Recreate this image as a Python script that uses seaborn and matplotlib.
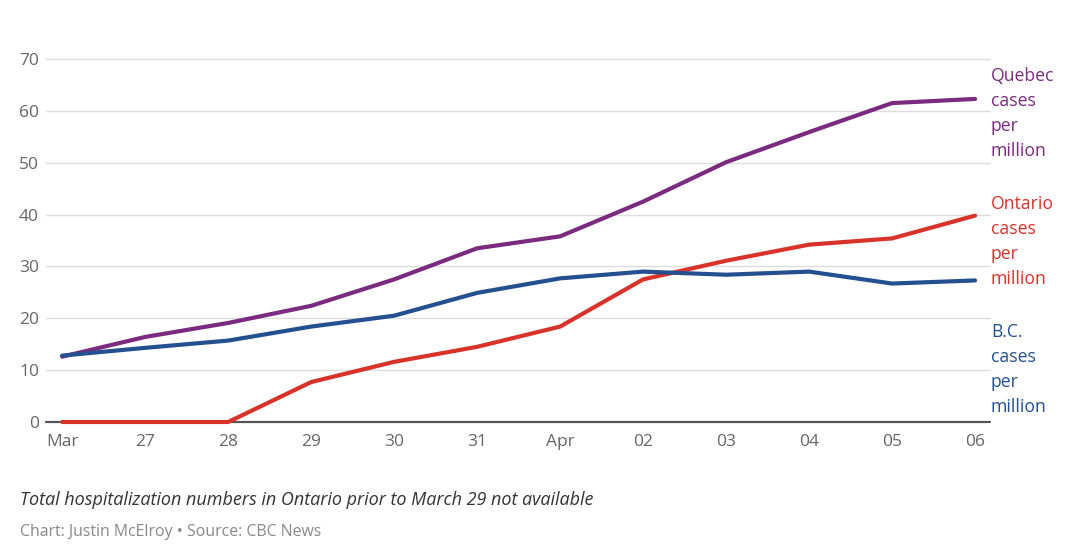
import seaborn as sns
import matplotlib.pyplot as plt
import pandas as pd

days = ['Mar', '27', '28', '29', '30', '31', 'Apr', '02', '03', '04', '05', '06']
quebec = [12.6, 16.4, 19.1, 22.4, 27.5, 33.5, 35.8, 42.5, 50.1, 55.9, 61.5, 62.3]
ontario = [0, 0, 0, 7.7, 11.6, 14.5, 18.4, 27.5, 31.1, 34.2, 35.4, 39.8]
bc = [12.8, 14.3, 15.7, 18.4, 20.5, 24.9, 27.7, 29.0, 28.4, 29.0, 26.7, 27.3]

regions = ['Quebec', 'Ontario', 'B.C.']
colors = {'Quebec': '#7a2b80', 'Ontario': '#d7332a', 'B.C.': '#24508f'}
# where the right-hand labels sit (data y of block centre)
label_y = {'Quebec': 59.5, 'Ontario': 34.9, 'B.C.': 10.2}

rows = []
for name, vals in zip(regions, [quebec, ontario, bc]):
    for i, v in enumerate(vals):
        rows.append({'day': i, 'value': v, 'region': name})
df = pd.DataFrame(rows)

sns.set_style('white')
plt.rcParams['font.family'] = ['Open Sans', 'DejaVu Sans']

fig = plt.figure(figsize=(10.8, 5.54), dpi=100)
ax = fig.add_axes([46 / 1080, 1 - 422 / 554, (990 - 46) / 1080, (422 - 59) / 554])

for y in range(10, 80, 10):
    ax.axhline(y, color='#dddddd', lw=1, zorder=0)
ax.axhline(0, color='#555555', lw=1.6, zorder=1)

sns.lineplot(data=df, x='day', y='value', hue='region', hue_order=regions,
             palette=colors, lw=3, legend=False, ax=ax, zorder=3,
             solid_capstyle='round')
for ln in ax.lines:
    ln.set_clip_on(False)

ax.set_xlim(-0.195, 11.18)
ax.set_ylim(0, 70)
ax.set_xticks(range(len(days)))
ax.set_xticklabels(days)
ax.set_yticks(range(0, 80, 10))
ax.tick_params(axis='both', length=0, labelsize=12.5, colors='#666666')
ax.tick_params(axis='y', pad=5)
ax.tick_params(axis='x', pad=9)
ax.set_xlabel('')
ax.set_ylabel('')
for s in ax.spines.values():
    s.set_visible(False)

for name in regions:
    ax.text(1.001, label_y[name], name + '\ncases\nper\nmillion',
            transform=ax.get_yaxis_transform(), color=colors[name],
            fontsize=12.7, ha='left', va='center', linespacing=1.5)

fig.text(20 / 1080, 1 - 500 / 554, 'Total hospitalization numbers in Ontario prior to March 29 not available',
         fontsize=13, style='italic', color='#333333', va='center')
fig.text(20 / 1080, 1 - 532 / 554, 'Chart: Justin McElroy \u2022 Source: CBC News',
         fontsize=11.4, color='#888888', va='center')

fig.savefig('out.png', dpi=100)
